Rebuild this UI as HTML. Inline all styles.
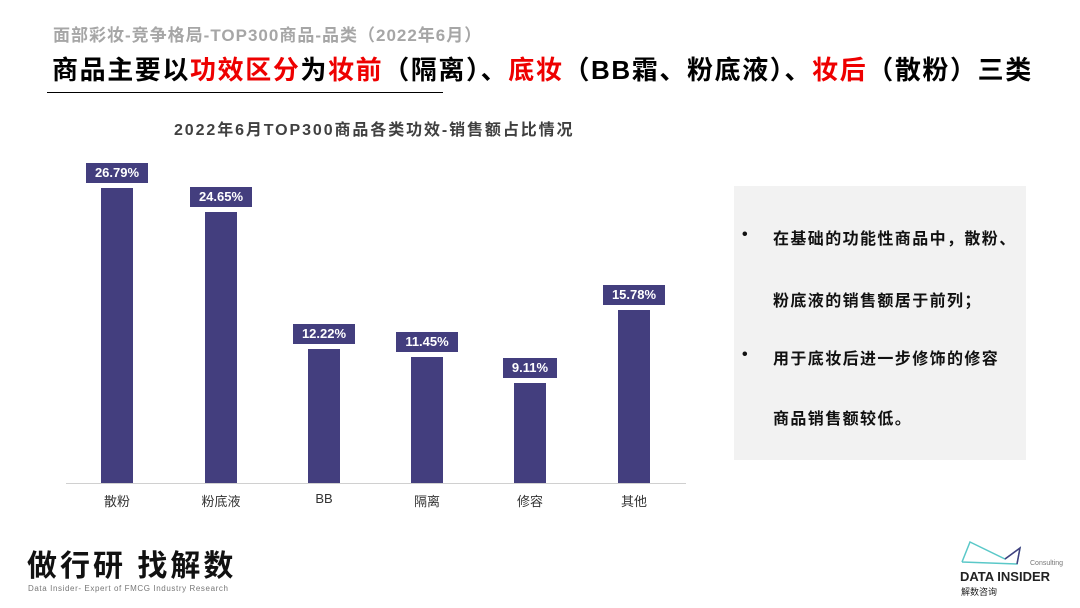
<!DOCTYPE html>
<html><head><meta charset="utf-8"><style>
body{margin:0;width:1080px;height:608px;background:#fff;position:relative;overflow:hidden;font-family:"Liberation Sans","Noto Sans CJK SC",sans-serif}
.a{position:absolute;white-space:nowrap}
.bar{position:absolute;width:32px;background:#433E7E;bottom:125px}
.v{position:absolute;width:62px;height:20px;background:#433E7E;color:#fff;font-size:13px;font-weight:bold;text-align:center;line-height:20px}
.l{position:absolute;top:491px;width:80px;text-align:center;font-size:13px;color:#333}
.r{color:#e00}
.t{font-size:16px;font-weight:bold;color:#111;letter-spacing:1.4px}
</style></head><body>
<div class="a" style="left:53px;top:21px;font-size:17px;font-weight:bold;color:#a6a6a6;letter-spacing:1px">面部彩妆-竞争格局-TOP300商品-品类（2022年6月）</div>
<div class="a" style="left:52px;top:50px;font-size:26px;font-weight:bold;color:#000;letter-spacing:1.6px">商品主要以<span class="r">功效区分</span>为<span class="r">妆前</span>（隔离）、<span class="r">底妆</span>（BB霜、粉底液）、<span class="r">妆后</span>（散粉）三类</div>
<div class="a" style="left:47px;top:92px;width:396px;height:1px;background:#000"></div>
<div class="a" style="left:174px;top:116px;font-size:16px;font-weight:bold;color:#404040;letter-spacing:1.9px">2022年6月TOP300商品各类功效-销售额占比情况</div>
<div class="a" style="left:66px;top:483px;width:620px;height:1px;background:#d0d0d0"></div>
<div class="bar" style="left:101px;top:188px"></div><div class="v" style="left:86px;top:163px">26.79%</div>
<div class="bar" style="left:205px;top:212px"></div><div class="v" style="left:190px;top:187px">24.65%</div>
<div class="bar" style="left:308px;top:349px"></div><div class="v" style="left:293px;top:324px">12.22%</div>
<div class="bar" style="left:411px;top:357px"></div><div class="v" style="left:396px;top:332px">11.45%</div>
<div class="bar" style="left:514px;top:383px"></div><div class="v" style="left:503px;top:358px;width:54px">9.11%</div>
<div class="bar" style="left:618px;top:310px"></div><div class="v" style="left:603px;top:285px">15.78%</div>
<div class="l" style="left:77px">散粉</div><div class="l" style="left:181px">粉底液</div><div class="l" style="left:284px">BB</div>
<div class="l" style="left:387px">隔离</div><div class="l" style="left:490px">修容</div><div class="l" style="left:594px">其他</div>
<div class="a" style="left:734px;top:186px;width:292px;height:274px;background:#f2f2f2"></div>
<div class="a t" style="left:742px;top:226px">•</div>
<div class="a t" style="left:773px;top:225px">在基础的功能性商品中，散粉、</div>
<div class="a t" style="left:773px;top:287px">粉底液的销售额居于前列；</div>
<div class="a t" style="left:742px;top:346px">•</div>
<div class="a t" style="left:773px;top:345px">用于底妆后进一步修饰的修容</div>
<div class="a t" style="left:773px;top:405px">商品销售额较低。</div>
<div class="a" style="left:27px;top:541px;font-size:30px;font-weight:bold;letter-spacing:3px;color:#111">做行研 找解数</div>
<div class="a" style="left:28px;top:584px;font-size:8px;color:#777;letter-spacing:0.6px">Data Insider- Expert of FMCG Industry Research</div>
<svg class="a" style="left:960px;top:540px" width="80" height="30"><polyline points="2,22 10,2 45,19 60,8 57,24 2,22" fill="none" stroke="#5ac8c8" stroke-width="1.5"/><polyline points="45,19 60,8 57,24" fill="none" stroke="#433E7E" stroke-width="1.5"/></svg>
<div class="a" style="left:1030px;top:560px;font-size:7px;color:#777">Consulting</div>
<div class="a" style="left:960px;top:569px;font-size:13px;font-weight:bold;color:#222">DATA INSIDER</div>
<div class="a" style="left:961px;top:585px;font-size:9px;color:#222">解数咨询</div>
</body></html>
